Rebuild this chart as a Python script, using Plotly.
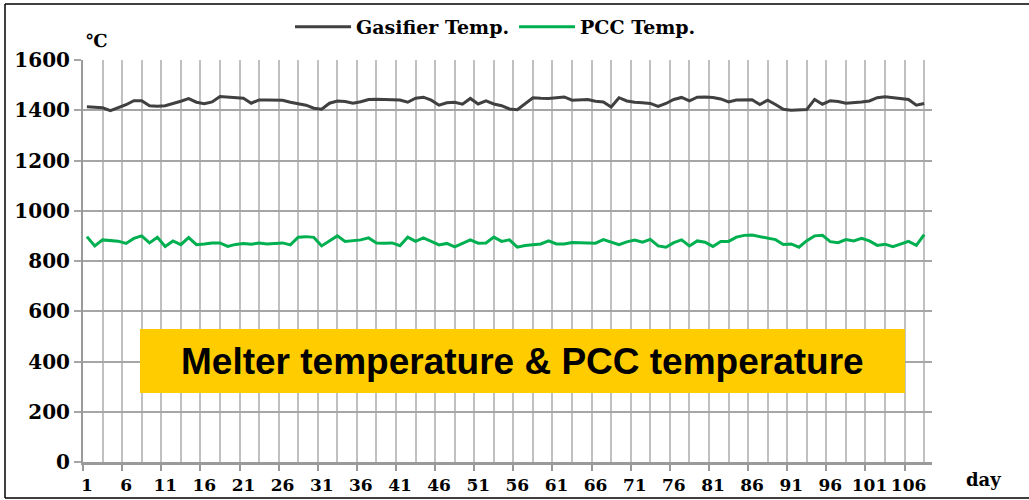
import plotly.graph_objects as go

days = list(range(1, 109))

gasifier_temp = [
    1414, 1413, 1410, 1398, 1410, 1422, 1438, 1438, 1418, 1416,
    1418, 1426, 1436, 1446, 1432, 1426, 1433, 1455, 1452, 1451,
    1448, 1428, 1441, 1441, 1441, 1440, 1432, 1426, 1420, 1408,
    1404, 1428, 1437, 1435, 1428, 1434, 1443, 1444, 1443, 1442,
    1441, 1432, 1448, 1452, 1440, 1420, 1430, 1432, 1424, 1447,
    1425, 1437, 1425, 1418, 1405, 1402, 1425, 1450, 1448, 1447,
    1450, 1453, 1440, 1440, 1443, 1436, 1433, 1413, 1450, 1437,
    1432, 1430, 1427, 1415, 1427, 1443, 1451, 1437, 1452, 1453,
    1451, 1445, 1433, 1441, 1443, 1442, 1423, 1440, 1423, 1404,
    1400, 1403, 1403, 1443, 1424, 1438, 1435, 1428, 1430, 1433,
    1437, 1450, 1454, 1451, 1448, 1443, 1420, 1427,
]

pcc_temp = [
    897, 860, 884, 882, 879, 870, 890, 900, 872, 894,
    858, 880, 865, 893, 865, 868, 872, 872, 858, 866,
    870, 867, 872, 868, 870, 872, 864, 895, 897, 894,
    860, 880, 900, 878, 880, 884, 892, 872, 871, 872,
    861, 895, 878, 892, 878, 864, 870, 856, 870, 884,
    871, 872, 895, 878, 884, 855, 862, 866, 868, 880,
    868, 868, 874, 873, 872, 871, 885, 875, 865, 876,
    883, 875, 886, 860, 855, 873, 884, 860, 880, 875,
    858, 878, 878, 895, 902, 903, 897, 892, 885, 866,
    868, 855, 881, 900, 902, 877, 873, 885, 880, 890,
    880, 862, 867, 857, 868, 878, 862, 905,
]

tick_days = list(range(1, 107, 5))
tick_labels = [str(d) for d in tick_days]
y_ticks = list(range(0, 1601, 200))

series_names = ["Gasifier Temp.", "PCC Temp."]
series_colors = ["#404040", "#00B050"]

L, R, T, B = 83, 97, 60, 38
W, H = 1029, 500
PW, PH = W - L - R, H - T - B


def px(x):
    return (x - L) / PW


def py(y):
    return (H - B - y) / PH


serif = "DejaVu Serif"

fig = go.Figure()
for name, vals, col in zip(series_names, [gasifier_temp, pcc_temp], series_colors):
    fig.add_trace(go.Scatter(x=days, y=vals, mode="lines", name=name,
                             line=dict(color=col, width=3)))

fig.update_layout(
    width=W, height=H,
    margin=dict(l=L, r=R, t=T, b=B, autoexpand=False),
    paper_bgcolor="white", plot_bgcolor="white",
    showlegend=True,
    legend=dict(orientation="h", x=px(290), xanchor="left", y=py(27), yanchor="middle",
                font=dict(family=serif, size=19, color="black", weight="bold"),
                itemwidth=56, bgcolor="rgba(0,0,0,0)", tracegroupgap=0),
    xaxis=dict(range=[0.5, 109], tickvals=[d - 0.5 for d in tick_days], ticktext=tick_labels,
               ticklabelshift=4, tickangle=0, automargin=False,
               showgrid=False, ticks="outside", ticklen=6, tickcolor="#9a9a9a", tickwidth=2,
               minor=dict(tick0=0.5, dtick=2.5, showgrid=True, gridcolor="#c0c0c0", gridwidth=2),
               showline=True, linecolor="#9a9a9a", linewidth=3,
               tickfont=dict(family=serif, size=17, color="black", weight="bold"),
               zeroline=False),
    yaxis=dict(range=[0, 1600], tickvals=y_ticks, showgrid=True, gridcolor="#a6a6a6", gridwidth=2,
               ticks="outside", ticklen=7, tickcolor="#a6a6a6", tickwidth=2, automargin=False,
               showline=True, linecolor="#9a9a9a", linewidth=2,
               tickfont=dict(family=serif, size=20, color="black", weight="bold"),
               zeroline=False),
)

# outer frame
frame = dict(type="line", xref="paper", yref="paper", line=dict(color="black", width=1.5))
fig.add_shape(**frame, x0=px(5), x1=px(5), y0=py(4), y1=py(498))
fig.add_shape(**frame, x0=px(5), x1=px(1030), y0=py(4), y1=py(4))
fig.add_shape(**frame, x0=px(5), x1=px(1030), y0=py(498), y1=py(498))

# title box
fig.add_shape(type="rect", xref="paper", yref="paper", x0=px(140), x1=px(905), y0=py(393), y1=py(329),
              fillcolor="#FFCC00", line=dict(width=0), layer="above")
fig.add_annotation(xref="paper", yref="paper", x=px(522), y=py(361), xanchor="center", yanchor="middle",
                   showarrow=False, text="Melter temperature & PCC temperature",
                   font=dict(family="Liberation Sans", size=37, color="black", weight="bold"))

fig.add_annotation(xref="paper", yref="paper", x=px(97), y=py(40), xanchor="center", yanchor="middle",
                   showarrow=False, text="℃",
                   font=dict(family=serif, size=18, color="black", weight="bold"))
fig.add_annotation(xref="paper", yref="paper", x=px(983), y=py(480), xanchor="center", yanchor="middle",
                   showarrow=False, text="day",
                   font=dict(family=serif, size=18, color="black", weight="bold"))

fig.write_html("out.html")
